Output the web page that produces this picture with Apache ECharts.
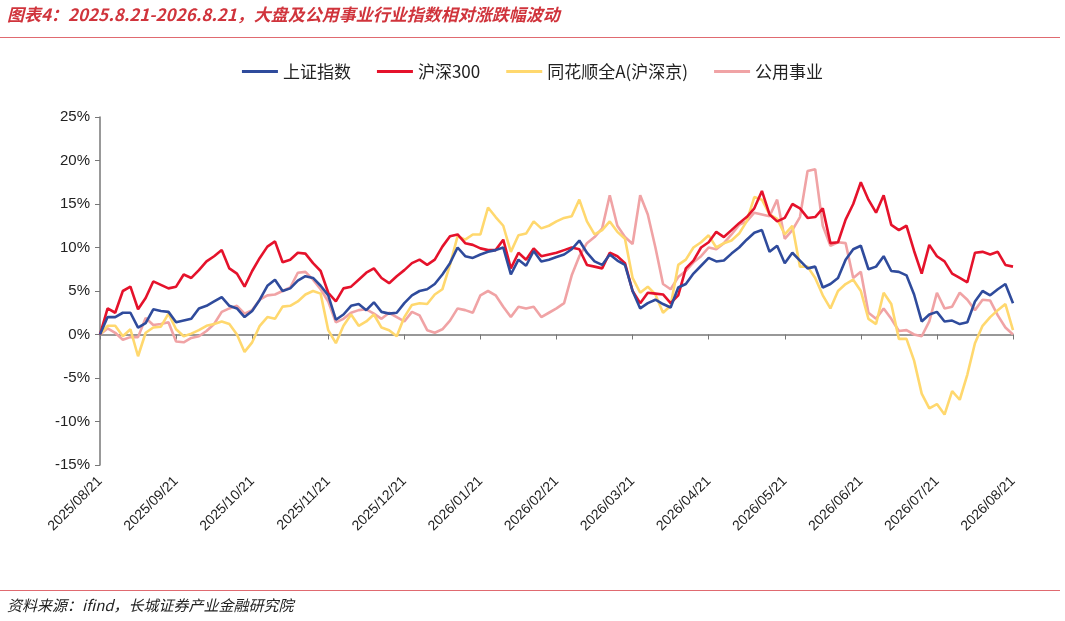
<!DOCTYPE html>
<html><head><meta charset="utf-8">
<script src="https://cdn.jsdelivr.net/npm/echarts@6/dist/echarts.min.js"></script>
<style>html,body{margin:0;padding:0;background:#fff}#c{width:1065px;height:621px}</style>
</head><body><div id="c"></div>
<script>
const tickLabels = ["2025/08/21","2025/09/21","2025/10/21","2025/11/21","2025/12/21","2026/01/21","2026/02/21","2026/03/21","2026/04/21","2026/05/21","2026/06/21","2026/07/21","2026/08/21"];
const shangzheng = [0,2.0,2.0,2.5,2.5,0.8,1.3,2.9,2.7,2.6,1.4,1.6,1.8,3.0,3.3,3.8,4.3,3.3,3.0,2.0,2.7,4.0,5.6,6.3,5.0,5.3,6.2,6.7,6.5,5.6,4.5,1.7,2.3,3.3,3.5,2.8,3.7,2.6,2.4,2.5,3.6,4.5,5.0,5.2,5.8,6.9,8.2,10.0,9.0,8.8,9.2,9.5,9.7,10.0,6.9,8.6,7.9,9.6,8.4,8.6,8.9,9.2,
9.8,10.8,9.4,8.4,8.0,9.2,8.5,8.0,5.0,3.0,3.6,4.0,3.5,3.1,5.4,5.8,7.0,7.9,8.8,8.4,8.5,9.3,10.0,10.9,11.7,12.0,9.5,10.2,8.2,9.4,8.5,7.6,7.8,5.4,5.8,6.5,8.6,9.8,10.2,7.5,7.8,9.0,7.3,7.2,6.8,4.6,1.5,2.3,2.6,1.5,1.6,1.2,1.4,3.8,5.0,4.5,5.2,5.8,3.6];
const hs300 = [0,3.0,2.5,5.0,5.5,2.9,4.2,6.1,5.7,5.3,5.5,6.9,6.5,7.4,8.4,9.0,9.7,7.6,7.0,5.5,7.3,8.8,10.1,10.7,8.3,8.6,9.4,9.3,8.2,7.3,4.8,3.8,5.3,5.5,6.3,7.1,7.6,6.5,5.9,6.7,7.4,8.2,8.6,8.0,8.6,10.1,11.3,11.5,10.5,10.3,9.9,9.7,9.7,10.9,7.6,9.4,8.6,9.9,9.0,9.2,9.4,9.7,
10.0,9.8,8.0,7.8,7.6,9.4,9.0,8.2,5.0,3.6,4.8,4.7,4.6,3.6,4.5,7.6,8.5,10.0,10.6,11.8,11.2,12.0,12.8,13.5,14.5,16.5,13.8,13.0,13.4,15.0,14.5,13.4,13.5,14.5,10.5,10.6,13.2,15.0,17.5,15.5,14.0,16.0,12.6,12.0,12.5,9.6,7.0,10.3,9.0,8.4,7.0,6.5,6.0,9.4,9.5,9.2,9.5,8.0,7.8];
const tonghuashun = [0,1.0,1.0,-0.2,0.6,-2.5,0.2,0.8,0.9,2.4,0.6,-0.2,0.1,0.5,1.0,1.2,1.5,1.2,0,-2.0,-0.9,1.0,2.0,1.8,3.2,3.3,3.8,4.6,5.0,4.7,0.5,-1.0,1.0,2.3,1.0,1.5,2.3,0.8,0.5,-0.2,2.0,3.4,3.6,3.5,4.6,5.2,8.0,11.3,10.9,11.5,11.5,14.6,13.5,12.5,9.5,11.4,11.6,13.0,12.2,12.5,13.0,13.4,
13.6,15.5,13.0,11.5,12.0,13.0,11.8,11.0,6.5,4.8,5.5,4.6,2.5,3.3,8.0,8.6,10.0,10.6,11.4,10.0,10.5,10.8,11.6,13.0,15.8,15.5,13.8,13.3,11.5,12.5,7.8,7.8,6.5,4.5,3.0,5.0,5.8,6.3,5.0,1.8,1.2,4.8,3.5,-0.5,-0.5,-3.0,-6.8,-8.5,-8.0,-9.2,-6.5,-7.5,-4.6,-1.0,1.0,2.0,2.8,3.5,0.5];
const gongyong = [0,0.7,0.2,-0.6,-0.3,-0.3,1.9,1.1,1.2,1.4,-0.8,-0.9,-0.4,-0.2,0.4,1.2,2.6,3.0,3.3,2.4,2.8,4.0,4.5,4.6,5.0,5.4,7.1,7.2,6.3,5.2,3.8,1.4,1.8,2.5,2.8,2.9,2.4,1.8,2.5,2.0,1.5,2.6,2.2,0.5,0.2,0.6,1.6,3.0,2.8,2.5,4.5,5.0,4.5,3.2,2.0,3.2,3.0,3.2,2.0,2.5,3.0,3.6,
6.8,9.0,10.5,11.2,12.2,16.0,12.5,11.2,10.4,16.0,13.8,10.0,5.8,5.2,6.6,7.3,8.3,9.0,10.0,9.8,10.5,11.5,12.6,13.0,14.0,13.8,13.6,15.5,11.0,12.0,13.5,18.8,19.0,12.5,10.2,10.6,10.5,6.5,7.2,2.5,1.8,3.0,1.8,0.4,0.5,0.0,-0.2,1.5,4.8,3.0,3.2,4.8,4.0,2.8,4.0,3.9,2.2,0.8,0.0];
const seriesNames = ["上证指数","沪深300","同花顺全A(沪深京)","公用事业"];
const colors = ["#2f4b9c","#e5122b","#ffd86e","#f0a3a5"];

const categories = shangzheng.map((_, i) => i % 10 === 0 ? tickLabels[i / 10] : "d" + i);
const chart = echarts.init(document.getElementById('c'));
const font = "'Liberation Sans', Arial, 'Noto Sans CJK SC', sans-serif";
chart.setOption({
  animation: false,
  graphic: [
    {type:'text', left: 7, top: 6, style:{text:"图表4：2025.8.21-2026.8.21，大盘及公用事业行业指数相对涨跌幅波动", fill:"#d0343c", font:"italic bold 17px 'Noto Sans CJK SC', sans-serif"}},
    {type:'rect', shape:{x:0,y:37,width:1060,height:1}, style:{fill:"#e06a70"}},
    {type:'rect', shape:{x:0,y:590,width:1060,height:1}, style:{fill:"#e06a70"}},
    {type:'text', left: 7, top: 598, style:{text:"资料来源：ifind，长城证券产业金融研究院", fill:"#222", font:"italic 15px 'Noto Sans CJK SC', sans-serif"}}
  ],
  color: colors,
  legend: {top: 58, left: 'center', itemWidth: 36, itemHeight: 3, itemGap: 26,
    icon: 'rect',
    textStyle:{fontSize:17, color:'#222', fontFamily:"'Noto Sans CJK SC', sans-serif"}, data: seriesNames},
  grid: {left: 100, right: 52, top: 117, bottom: 156},
  xAxis: [
    {type:'category', data: categories, boundaryGap:false,
      axisLine:{show:false, onZero:false}, axisTick:{show:false},
      axisLabel:{interval:9, rotate:45, fontSize:14, color:'#222', fontFamily:font, margin:14,
        formatter: v => v.startsWith('d') ? '' : v}},
    {type:'category', data: categories, boundaryGap:false, position:'bottom',
      axisLine:{onZero:true, lineStyle:{color:'#777', width:1.5}},
      axisTick:{interval:9, length:5, lineStyle:{color:'#777'}}, axisLabel:{show:false}}
  ],
  yAxis: {type:'value', min:-15, max:25, interval:5,
    axisLine:{show:true, lineStyle:{color:'#777', width:1.5}},
    axisTick:{show:true, length:5, lineStyle:{color:'#777'}},
    splitLine:{show:false},
    axisLabel:{formatter:'{value}%', fontSize:15, color:'#222', fontFamily:font, margin:10}},
  series: [shangzheng, hs300, tonghuashun, gongyong].map((d, k) => ({
    name: seriesNames[k], type:'line', data: d, showSymbol:false, symbol:'none',
    lineStyle:{width:2.6, color: colors[k]}, z: [5,4,3,2][k]
  }))
});
</script></body></html>
